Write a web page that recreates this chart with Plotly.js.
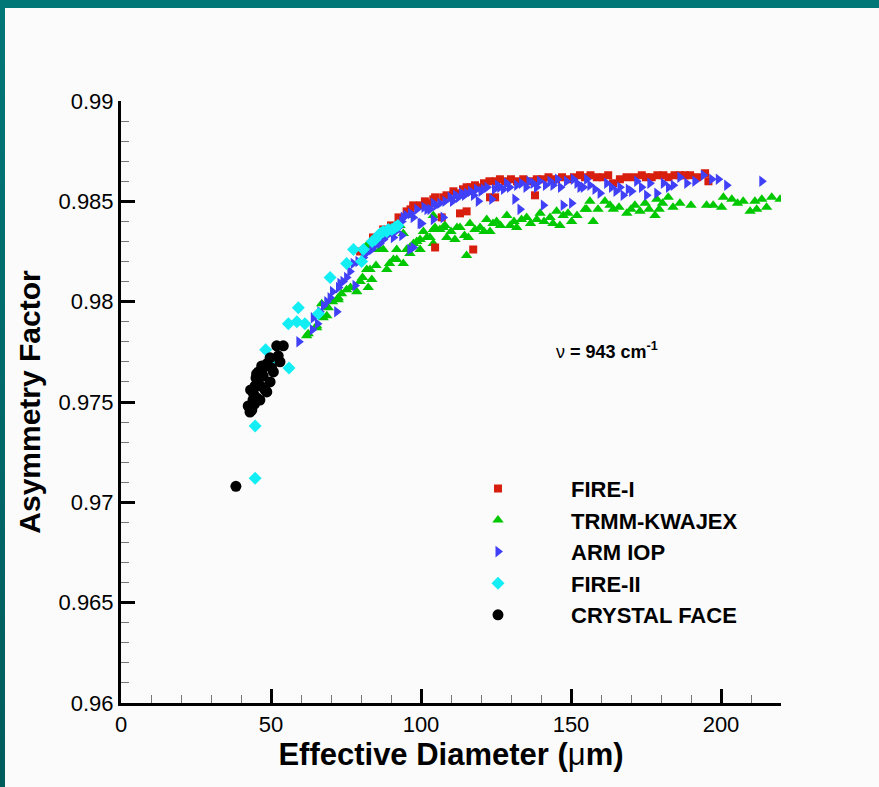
<!DOCTYPE html>
<html>
<head>
<meta charset="utf-8">
<script src="https://cdn.plot.ly/plotly-3.0.1.min.js"></script>
<style>
  html, body { margin: 0; padding: 0; width: 879px; height: 787px; overflow: hidden;
    background: linear-gradient(#027777, #015c5c); }
  #plot { position: absolute; left: 5px; top: 8px; width: 874px; height: 779px; background: #fbfbfb; }
</style>
</head>
<body>
<div id="plot"></div>
<script>
// ---- data (effective diameter in µm, asymmetry factor) ----
const fire1X = [79.7,84.0,87.4,90.0,92.5,95.2,96.5,97.4,99.7,101.3,103.0,104.1,104.7,104.7,106.9,107.4,108.5,110.8,112.0,113.0,114.0,115.2,115.2,116.5,117.4,118.0,119.5,121.0,122.8,123.0,124.7,125.0,126.3,128.0,130.0,132.0,134.1,136.0,138.0,138.6,140.5,142.5,145.0,147.0,149.0,151.0,153.0,154.7,156.5,158.6,160.5,162.4,164.0,166.3,168.5,171.0,173.6,175.0,176.9,178.8,180.8,182.5,184.5,186.3,188.0,189.7,192.0,194.7,195.8];
const fire1Y = [0.9825,0.9832,0.9836,0.9838,0.9842,0.9845,0.9846,0.9848,0.9848,0.9850,0.9849,0.9851,0.9827,0.9852,0.9842,0.9852,0.9853,0.9855,0.9854,0.9844,0.9856,0.9845,0.9857,0.9857,0.9826,0.9858,0.9857,0.9859,0.9860,0.9852,0.9852,0.9860,0.9861,0.9860,0.9861,0.9860,0.9861,0.9860,0.9853,0.9861,0.9861,0.9862,0.9861,0.9862,0.9861,0.9862,0.9863,0.9862,0.9863,0.9862,0.9862,0.9863,0.9859,0.9861,0.9862,0.9862,0.9863,0.9862,0.9862,0.9863,0.9863,0.9862,0.9863,0.9863,0.9863,0.9863,0.9862,0.9864,0.9860];

const trmmX = [61.9,62.4,65.2,65.2,66.9,67.4,68.6,69.1,70.5,72.4,72.4,73.5,75.2,76.5,78.6,79.7,80.5,81.9,81.9,82.4,83.0,83.6,84.1,85.0,86.3,87.4,88.6,89.5,90.8,91.9,91.9,93.0,94.1,94.1,95.2,96.3,96.3,96.3,97.5,98.6,99.7,99.7,100.8,101.9,103.0,104.1,104.1,104.1,104.7,106.3,107.4,108.0,108.6,110.0,111.3,112.0,113.0,114.5,115.2,115.8,116.3,118.0,119.7,121.0,121.9,123.0,124.0,125.2,126.5,128.6,129.7,131.0,131.9,133.5,135.2,136.5,138.6,139.7,141.0,143.0,144.0,145.2,146.3,147.4,149.0,150.2,152.0,154.7,155.2,156.3,157.4,159.0,161.3,163.0,164.1,166.0,168.6,170.0,171.3,173.0,174.7,176.0,178.0,178.6,179.4,180.5,182.4,184.0,186.3,190.0,195.2,197.4,200.2,200.8,203.6,205.5,207.4,209.7,211.3,211.9,213.6,215.2,216.9,219.7];
const trmmY = [0.9783,0.9784,0.9788,0.9787,0.9799,0.9792,0.9793,0.9797,0.9800,0.9801,0.9802,0.9804,0.9806,0.9807,0.9805,0.9810,0.9812,0.9816,0.9828,0.9807,0.9816,0.9811,0.9826,0.9818,0.9826,0.9826,0.9816,0.9819,0.9821,0.9826,0.9821,0.9838,0.9819,0.9834,0.9826,0.9824,0.9827,0.9843,0.9829,0.9830,0.9826,0.9831,0.9835,0.9832,0.9832,0.9829,0.9836,0.9843,0.9837,0.9836,0.9837,0.9838,0.9832,0.9835,0.9831,0.9837,0.9837,0.9833,0.9823,0.9832,0.9839,0.9836,0.9837,0.9835,0.9841,0.9835,0.9839,0.9840,0.9838,0.9843,0.9838,0.9840,0.9837,0.9841,0.9842,0.9839,0.9841,0.9844,0.9840,0.9842,0.9839,0.9845,0.9838,0.9843,0.9844,0.9840,0.9843,0.9846,0.9846,0.9850,0.9840,0.9846,0.9850,0.9848,0.9846,0.9847,0.9844,0.9846,0.9848,0.9845,0.9849,0.9846,0.9843,0.9851,0.9846,0.9849,0.9852,0.9847,0.9849,0.9848,0.9848,0.9848,0.9847,0.9852,0.9851,0.9849,0.9850,0.9845,0.9850,0.9846,0.9851,0.9847,0.9852,0.9851];

const armX = [59.3,63.8,64.1,65.5,66.3,67.5,68.6,69.7,70.5,71.9,72.5,73.0,74.0,75.2,76.3,77.4,78.0,79.0,80.8,81.5,82.4,83.6,84.5,85.5,86.3,87.5,88.5,89.5,90.8,91.5,92.5,93.6,93.6,94.1,95.0,96.3,97.4,96.5,97.4,98.6,99.7,100.2,101.0,102.0,103.0,104.1,104.1,105.0,106.3,107.4,108.0,109.7,110.5,111.5,112.5,113.5,114.5,115.2,116.5,117.5,118.5,119.1,120.0,120.8,122.0,123.6,124.5,125.5,126.3,127.5,128.5,129.5,131.3,131.9,133.0,133.5,135.0,136.0,137.4,138.5,139.5,140.8,141.5,143.0,144.0,145.5,146.5,147.4,148.5,150.2,150.8,152.0,153.0,154.1,155.2,156.3,158.0,159.7,161.9,163.5,165.0,166.3,167.4,169.1,170.2,171.9,173.5,175.2,176.3,178.6,180.8,182.5,184.1,186.3,188.6,191.3,194.1,196.9,199.1,201.9,213.6];
const armY = [0.9780,0.9786,0.9792,0.9789,0.9795,0.9798,0.9800,0.9802,0.9805,0.9795,0.9807,0.9809,0.9810,0.9812,0.9815,0.9819,0.9808,0.9820,0.9822,0.9824,0.9825,0.9826,0.9828,0.9829,0.9829,0.9831,0.9833,0.9834,0.9832,0.9835,0.9837,0.9833,0.9840,0.9842,0.9843,0.9826,0.9827,0.9844,0.9842,0.9846,0.9839,0.9839,0.9847,0.9846,0.9846,0.9849,0.9841,0.9848,0.9849,0.9842,0.9850,0.9852,0.9850,0.9853,0.9852,0.9854,0.9853,0.9854,0.9855,0.9853,0.9856,0.9850,0.9855,0.9856,0.9857,0.9851,0.9856,0.9858,0.9857,0.9856,0.9859,0.9857,0.9851,0.9858,0.9846,0.9859,0.9857,0.9860,0.9859,0.9857,0.9860,0.9848,0.9858,0.9860,0.9858,0.9861,0.9857,0.9848,0.9860,0.9849,0.9861,0.9859,0.9857,0.9857,0.9861,0.9858,0.9856,0.9854,0.9859,0.9857,0.9855,0.9857,0.9853,0.9856,0.9855,0.9860,0.9857,0.9853,0.9859,0.9854,0.9859,0.9857,0.9858,0.9862,0.9859,0.9860,0.9863,0.9861,0.9861,0.9858,0.9860];

const fire2X = [44.7,44.7,48.2,50.5,56.0,55.8,59.1,58.6,61.3,65.8,69.7,75.2,77.5,80.2,80.8,83.7,84.7,85.8,86.5,87.4,88.6,89.1,90.3,91.3,92.3];
const fire2Y = [0.9712,0.9738,0.9776,0.9771,0.9767,0.9789,0.9797,0.9790,0.9789,0.9794,0.9812,0.9819,0.9826,0.9820,0.9826,0.9830,0.9831,0.9833,0.9834,0.9835,0.9835,0.9836,0.9836,0.9837,0.9838];

const cfX = [38.3,42.4,43.0,43.6,43.2,44.0,44.7,45.3,45.2,45.7,45.8,46.3,46.9,47.4,48.0,48.6,48.6,49.7,49.7,50.8,51.9,53.0,54.1,44.2,46.5,47.0,45.0,44.5,50.2,52.4];
const cfY = [0.9708,0.9748,0.9745,0.9746,0.9756,0.9751,0.9758,0.9752,0.9764,0.9761,0.9765,0.9751,0.9768,0.9763,0.9756,0.9769,0.9755,0.9772,0.9760,0.9765,0.9778,0.9770,0.9778,0.9754,0.9758,0.9766,0.9762,0.9749,0.9767,0.9773];

const seriesNames = ['FIRE-I','TRMM-KWAJEX','ARM IOP','FIRE-II','CRYSTAL FACE'];
const xTickVals = [0,50,100,150,200];
const yTickVals = [0.96,0.965,0.97,0.975,0.98,0.985,0.99];

function tr(x, y, name, rank, symbol, color, size) {
  return { type: 'scatter', mode: 'markers', x: x, y: y, name: name, legendrank: rank,
    marker: { symbol: symbol, color: color, size: size, line: { width: 0 } }, cliponaxis: true };
}

const data = [
  tr(trmmX, trmmY, seriesNames[1], 2, 'triangle-up', '#00c800', 10),
  tr(fire1X, fire1Y, seriesNames[0], 1, 'square', '#d81e0c', 8),
  tr(armX, armY, seriesNames[2], 3, 'triangle-right', '#4040f8', 10),
  tr(fire2X, fire2Y, seriesNames[3], 4, 'diamond', '#12eef4', 10),
  tr(cfX, cfY, seriesNames[4], 5, 'circle', '#000000', 11)
];

const font = 'Liberation Sans, Arial, Helvetica, sans-serif';
const layout = {
  width: 874, height: 779,
  paper_bgcolor: '#fbfbfb', plot_bgcolor: '#fbfbfb',
  margin: { l: 116, r: 98, t: 93, b: 84 },
  font: { family: font, color: '#000' },
  showlegend: true,
  legend: {
    x: 0.4606, y: 0.391, xanchor: 'left', yanchor: 'top',
    bgcolor: 'rgba(0,0,0,0)', itemwidth: 136,
    font: { family: font, size: 22, color: '#000', weight: 'bold' },
    tracegroupgap: 0
  },
  xaxis: {
    range: [0, 220], tickvals: xTickVals, ticktext: xTickVals.map(String),
    showgrid: false, zeroline: false, showline: true, linecolor: '#000', linewidth: 3,
    ticks: 'inside', ticklen: 14, tickwidth: 3, tickcolor: '#000',
    minor: { dtick: 10, ticks: 'inside', ticklen: 8, tickwidth: 1, tickcolor: '#777', showgrid: false },
    tickfont: { size: 22, family: font },
    title: { text: '<b>Effective Diameter (</b>μ<b>m)</b>', font: { size: 31, family: font }, standoff: 6 }
  },
  yaxis: {
    range: [0.96, 0.99], tickvals: yTickVals, ticktext: yTickVals.map(String),
    showgrid: false, zeroline: false, showline: true, linecolor: '#000', linewidth: 3,
    ticks: 'inside', ticklen: 14, tickwidth: 3, tickcolor: '#000',
    minor: { dtick: 0.001, ticks: 'inside', ticklen: 8, tickwidth: 1, tickcolor: '#777', showgrid: false },
    tickfont: { size: 22, family: font },
    title: { text: '<b>Asymmetry Factor</b>', font: { size: 30, family: font }, standoff: 10 }
  },
  annotations: [{
    xref: 'paper', yref: 'paper', x: 0.656, y: 0.585, xanchor: 'left', yanchor: 'middle',
    showarrow: false, text: 'ν<b> = 943 cm<sup>-1</sup></b>', font: { size: 18, family: font, color: '#000' }
  }]
};

Plotly.newPlot('plot', data, layout, { displayModeBar: false, staticPlot: true });
</script>
</body>
</html>
